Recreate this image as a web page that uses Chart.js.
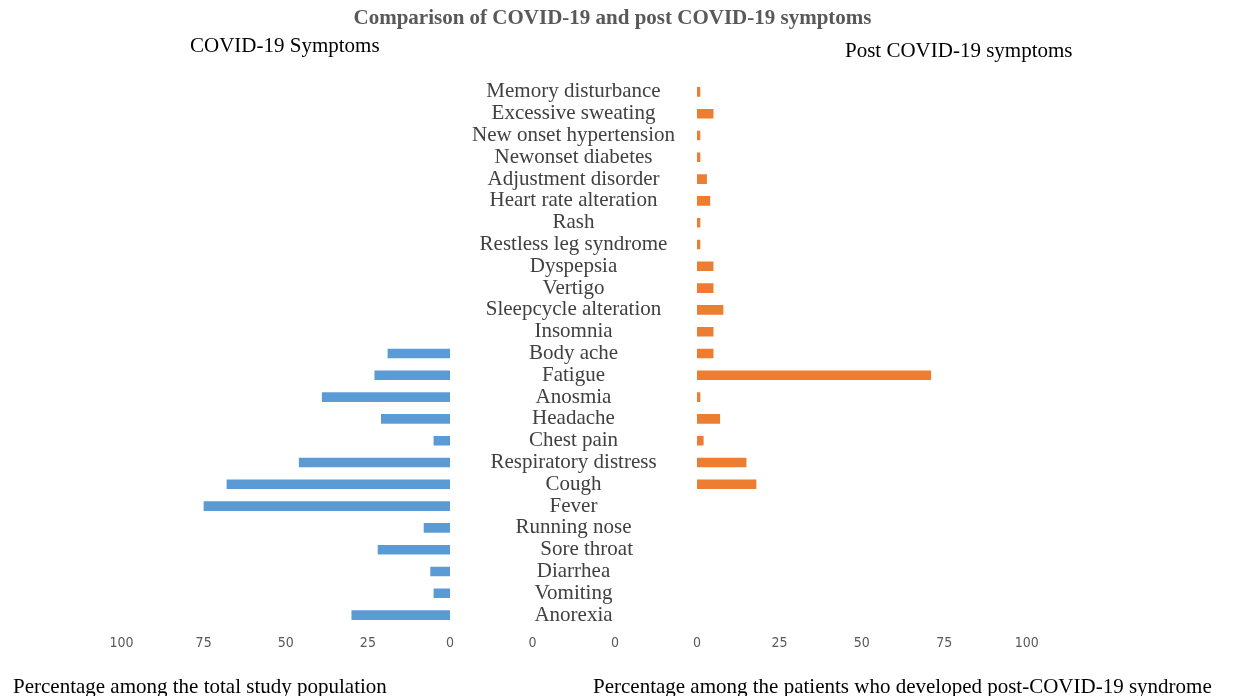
<!DOCTYPE html>
<html>
<head>
<meta charset="utf-8">
<script src="https://cdn.jsdelivr.net/npm/chart.js@4"></script>
<style>
  body { margin: 0; background: #fff; }
  #wrap { position: relative; width: 1234px; height: 696px; overflow: hidden; }
  canvas { position: absolute; top: 0; }
  .txt { position: absolute; font-family: 'Liberation Serif', serif; white-space: nowrap; color: #000; }
</style>
</head>
<body>
<div id="wrap">
  <canvas id="leftChart" style="left:0px" width="697" height="696"></canvas>
  <canvas id="midChart" style="left:450px" width="247" height="696"></canvas>
  <canvas id="rightChart" style="left:600px" width="634" height="696"></canvas>

  <div class="txt" style="left:0;width:1225px;text-align:center;top:5px;font-size:21px;line-height:24px;font-weight:bold;color:#595959">Comparison of COVID-19 and post COVID-19 symptoms</div>
  <div class="txt" style="left:190px;top:33px;font-size:21px;line-height:24px">COVID-19 Symptoms</div>
  <div class="txt" style="left:845px;top:38px;font-size:21px;line-height:24px">Post COVID-19 symptoms</div>
  <div class="txt" style="left:13px;top:674px;font-size:21px;line-height:24px">Percentage among the total study population</div>
  <div class="txt" style="left:593px;top:674px;font-size:21px;line-height:24px">Percentage among the patients who developed post-COVID-19 syndrome</div>
</div>

<script>
// ===============================
// Datos
// ===============================
const symptoms = [
  "Memory disturbance", "Excessive sweating", "New onset hypertension", "Newonset diabetes",
  "Adjustment disorder", "Heart rate alteration", "Rash", "Restless leg syndrome",
  "Dyspepsia", "Vertigo", "Sleepcycle alteration", "Insomnia", "Body ache", "Fatigue",
  "Anosmia", "Headache", "Chest pain", "Respiratory distress", "Cough", "Fever",
  "Running nose", "     Sore throat", "Diarrhea", "Vomiting", "Anorexia"
];

// % among total study population (COVID-19)
const covidPct = [
  null, null, null, null, null, null, null, null, null, null, null, null,
  19, 23, 39, 21, 5, 46, 68, 75, 8, 22, 6, 5, 30
];

// % among patients with post-COVID-19 syndrome
const postPct = [
  1, 5, 1, 1, 3, 4, 1, 1, 5, 5, 8, 5,
  5, 71, 1, 7, 2, 15, 18, null, null, null, null, null, null
];

const xTicks = [0, 25, 50, 75, 100];
const midTicks = [0, 1];

const labelFont = { family: "'Liberation Serif', serif", size: 21 };
const tickFont = { family: "'Liberation Sans Narrow', 'DejaVu Sans Condensed', sans-serif", size: 14 };

const TOP = 81;
const BOTTOM = 40;

// ancho de la etiqueta más larga, para centrar las etiquetas entre los dos paneles
const mctx = document.createElement("canvas").getContext("2d");
mctx.font = "21px 'Liberation Serif', serif";
const widest = Math.max(...symptoms.map(s => mctx.measureText(s).width));
const labelPad = (247 - widest) / 2;

function xAxis(extra) {
  return Object.assign({
    min: 0,
    max: 100,
    grid: { display: false, drawTicks: false },
    border: { display: false },
    afterFit: s => { s.height = 30; },
    afterBuildTicks: s => { s.ticks = xTicks.map(v => ({ value: v })); },
    ticks: { color: "#595959", font: tickFont, padding: 9, maxRotation: 0 }
  }, extra);
}

// ===============================
// 1) Panel izquierdo (COVID-19)
// ===============================
new Chart(document.getElementById("leftChart"), {
  type: "bar",
  data: {
    labels: symptoms,
    datasets: [{
      data: covidPct,
      backgroundColor: "#5B9BD5",
      barPercentage: 0.44,
      categoryPercentage: 1
    }]
  },
  options: {
    indexAxis: "y",
    responsive: false,
    animation: false,
    layout: { padding: { left: 121.5, right: 0, top: TOP, bottom: BOTTOM } },
    plugins: { legend: { display: false }, tooltip: { enabled: false } },
    scales: {
      x: xAxis({ reverse: true }),
      y: {
        position: "right",
        grid: { display: false, drawTicks: false },
        border: { display: false },
        afterFit: s => { s.width = 247; },
        ticks: { color: "#404040", font: labelFont, crossAlign: "center", padding: labelPad, autoSkip: false }
      }
    }
  }
});

// ===============================
// 2) Eje central (0 0)
// ===============================
new Chart(document.getElementById("midChart"), {
  type: "bar",
  data: { labels: symptoms, datasets: [] },
  options: {
    indexAxis: "y",
    responsive: false,
    animation: false,
    layout: { padding: { left: 82.5, right: 82, top: TOP, bottom: BOTTOM } },
    plugins: { legend: { display: false }, tooltip: { enabled: false } },
    scales: {
      x: {
        type: "linear",
        min: 0,
        max: 1,
        grid: { display: false, drawTicks: false },
        border: { display: false },
        afterFit: s => { s.height = 30; },
        afterBuildTicks: s => { s.ticks = midTicks.map(v => ({ value: v })); },
        ticks: { color: "#595959", font: tickFont, padding: 9, maxRotation: 0, callback: () => "0" }
      },
      y: { display: false }
    }
  }
});

// ===============================
// 3) Panel derecho (post COVID-19)
// ===============================
new Chart(document.getElementById("rightChart"), {
  type: "bar",
  data: {
    labels: symptoms,
    datasets: [{
      data: postPct,
      backgroundColor: "#ED7D31",
      barPercentage: 0.44,
      categoryPercentage: 1
    }]
  },
  options: {
    indexAxis: "y",
    responsive: false,
    animation: false,
    layout: { padding: { left: 97, right: 207.3, top: TOP, bottom: BOTTOM } },
    plugins: { legend: { display: false }, tooltip: { enabled: false } },
    scales: {
      x: xAxis({}),
      y: { display: false }
    }
  }
});
</script>
</body>
</html>
